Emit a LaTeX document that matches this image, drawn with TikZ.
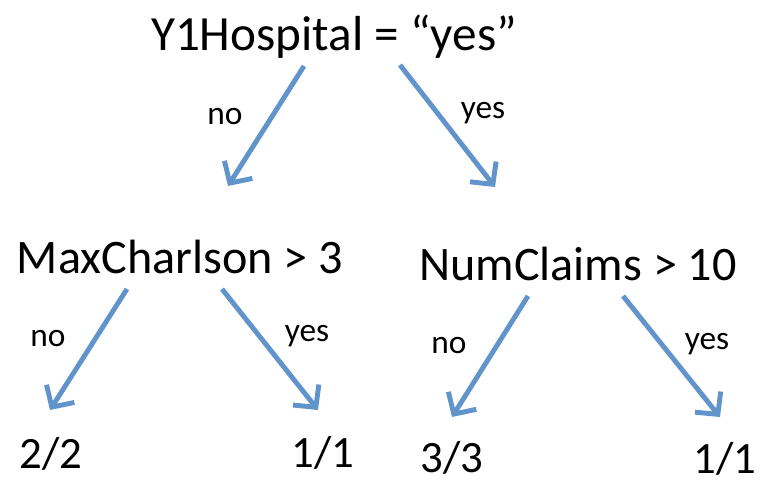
\documentclass[tikz,border=0pt]{standalone}
\usepackage{fontspec}
\setmainfont{Carlito}
\usepackage{tikz}
\usetikzlibrary{arrows.meta, positioning, calc}
\definecolor{branchblue}{RGB}{98,148,204}

\begin{document}
\begin{tikzpicture}[
  x=0.02cm, y=-0.02cm,
  test/.style={anchor=base, inner sep=0pt, font=\fontsize{27.4}{32}\selectfont},
  leaf/.style={anchor=base, inner sep=0pt, font=\fontsize{25.5}{30}\selectfont},
  lbl/.style={anchor=base, inner sep=0pt, font=\fontsize{19}{23}\selectfont},
  branch/.style={draw=branchblue, line width=2.8pt,
                 -{Straight Barb[length=3.2mm, width=6.6mm]}},
]
\useasboundingbox (0,0) rectangle (764,484);
% tests and leaves
\node[test, font=\fontsize{28}{33}\selectfont] (root) at (334,50) {Y1Hospital = “yes”};
\node[test] (mc)   at (180,273) {MaxCharlson > 3};
\node[test] (nc)   at (578,280) {NumClaims > 10};
\node[leaf] (l1)   at (51,468)  {2/2};
\node[leaf] (l2)   at (323,467) {1/1};
\node[leaf] (l3)   at (452,472) {3/3};
\node[leaf] (l4)   at (725,473) {1/1};
% arrow ends
\coordinate (root-no)  at (304,66);  \coordinate (mc-in)  at (228,186);
\coordinate (root-yes) at (400,65);  \coordinate (nc-in)  at (495,187);
\coordinate (mc-no)    at (127,289); \coordinate (l1-in)  at (50,410);
\coordinate (mc-yes)   at (222,289); \coordinate (l2-in)  at (318,410);
\coordinate (nc-no)    at (528,296); \coordinate (l3-in)  at (452,417);
\coordinate (nc-yes)   at (623,296); \coordinate (l4-in)  at (720,417);
\draw[branch] (root-no)  -- (mc-in);
\draw[branch] (root-yes) -- (nc-in);
\draw[branch] (mc-no)    -- (l1-in);
\draw[branch] (mc-yes)   -- (l2-in);
\draw[branch] (nc-no)    -- (l3-in);
\draw[branch] (nc-yes)   -- (l4-in);
% branch labels
\node[lbl] (root-nol)  at (225,124) {no};
\node[lbl] (root-yesl) at (483,118) {yes};
\node[lbl] (mc-nol)    at (48,346)  {no};
\node[lbl] (mc-yesl)   at (307,341) {yes};
\node[lbl] (nc-nol)    at (449,353) {no};
\node[lbl] (nc-yesl)   at (707,349) {yes};
\end{tikzpicture}
\end{document}
